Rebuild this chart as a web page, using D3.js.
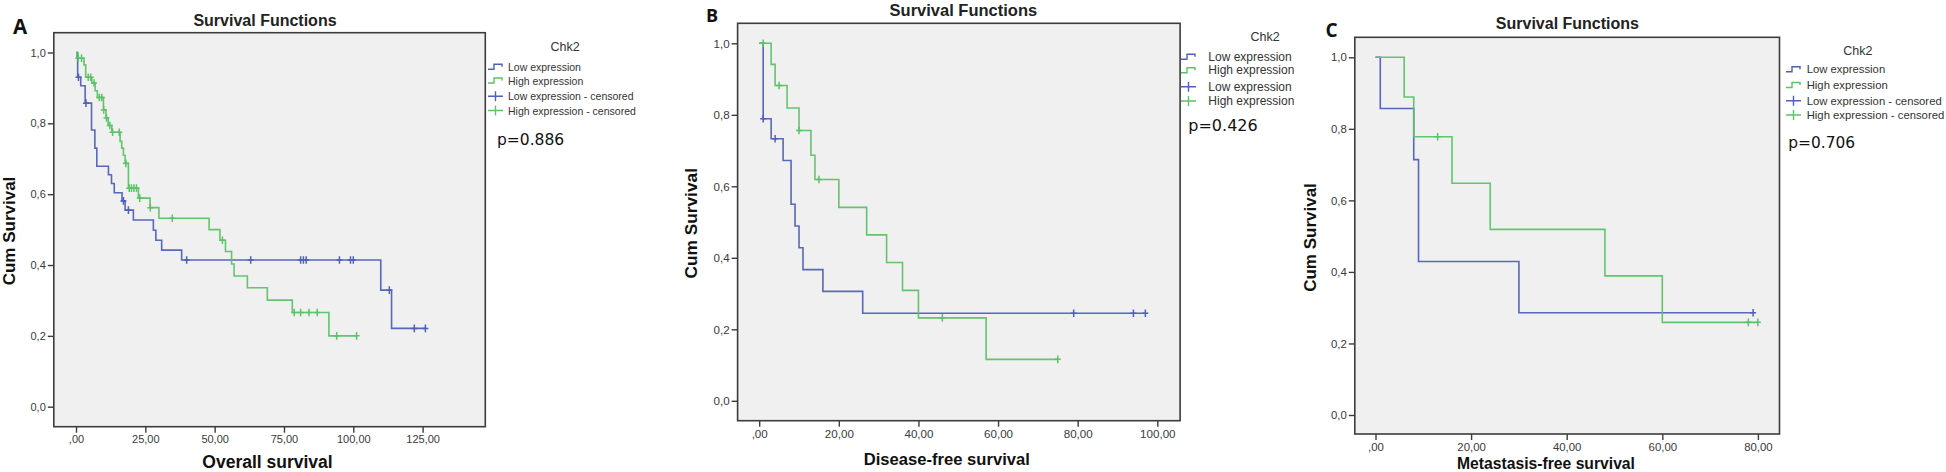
<!DOCTYPE html>
<html><head><meta charset="utf-8">
<script src="https://cdn.jsdelivr.net/npm/d3@7"></script>
<style>body{margin:0;background:#fff}</style>
</head><body>
<svg id="c" width="1946" height="472"></svg>
<script>
// ---------- data ----------
const chartTitle = "Survival Functions";
const yLabel = "Cum Survival";
const legendTitle = "Chk2";
const legendLabels = ["Low expression", "High expression", "Low expression - censored", "High expression - censored"];
const yTicks = [0, 0.2, 0.4, 0.6, 0.8, 1.0];

// Panel A – Overall survival
const A_xTicks = [0, 25, 50, 75, 100, 125];
const A_lowEventTime = [0.6, 1.7, 3.3, 5.6, 6.8, 7.5, 11.7, 12.8, 13.8, 16.6, 17.7, 20.7, 27.9, 28.8, 30.9, 38.1, 109.9, 113.8];
const A_lowEventSurv = [0.93, 0.906, 0.857, 0.781, 0.73, 0.679, 0.655, 0.63, 0.604, 0.581, 0.555, 0.527, 0.498, 0.47, 0.442, 0.414, 0.329, 0.221];
const A_lowCensorTime = [0.9, 3.6, 17.1, 18.9, 39.9, 63, 81, 82, 83, 95, 99, 100, 113, 122, 126];
const A_highEventTime = [0.3, 2.9, 3.5, 5.7, 6.9, 7.7, 9.9, 10.8, 11.6, 12.9, 15.9, 16.5, 17.1, 17.7, 18.9, 22.5, 26.7, 29.9, 48, 51.9, 53.9, 56.1, 57, 61.8, 69, 78, 91.2];
const A_highEventSurv = [0.984, 0.965, 0.93, 0.914, 0.892, 0.873, 0.838, 0.815, 0.794, 0.775, 0.749, 0.73, 0.71, 0.687, 0.617, 0.589, 0.562, 0.532, 0.5, 0.47, 0.438, 0.403, 0.369, 0.336, 0.301, 0.266, 0.2];
const A_highCensorTime = [0.8, 2.0, 4.4, 5.3, 6.5, 8.4, 9.3, 10.0, 11.0, 12.2, 13.2, 15.6, 18.0, 19.2, 20.0, 20.9, 21.8, 23.0, 26.8, 34.7, 52.8, 78.7, 81, 84, 87, 94, 101.2];
const A_pValue = "p=0.886";
const A_xLabel = "Overall survival";

// Panel B – Disease-free survival
const B_xTicks = [0, 20, 40, 60, 80, 100];
const B_lowEventTime = [1, 3, 6, 8, 9, 10, 11, 16, 26];
const B_lowEventSurv = [0.789, 0.733, 0.672, 0.55, 0.489, 0.428, 0.367, 0.306, 0.245];
const B_lowCensorTime = [1, 4, 79, 94, 97];
const B_highEventTime = [3, 4, 7, 10, 13, 14, 20, 27, 32, 36, 40, 57];
const B_highEventSurv = [0.941, 0.882, 0.819, 0.756, 0.687, 0.619, 0.541, 0.464, 0.387, 0.309, 0.232, 0.116];
const B_highCensorTime = [1, 5, 10, 15, 46, 75];
const B_pValue = "p=0.426";
const B_xLabel = "Disease-free survival";

// Panel C – Metastasis-free survival
const C_xTicks = [0, 20, 40, 60, 80];
const C_lowEventTime = [1, 8, 9, 30];
const C_lowEventSurv = [0.857, 0.714, 0.429, 0.286];
const C_lowCensorTime = [79];
const C_highEventTime = [6, 8, 16, 24, 48, 60];
const C_highEventSurv = [0.889, 0.778, 0.648, 0.519, 0.389, 0.259];
const C_highCensorTime = [13, 78, 80];
const C_pValue = "p=0.706";
const C_xLabel = "Metastasis-free survival";

// ---------- drawing ----------
const BLUE = "#4f60b6", GREEN = "#5cc267";
const svg = d3.select("#c");
svg.append("rect").attr("width", 1946).attr("height", 472).attr("fill", "#fff");
const defs = svg.append("defs");

function survAt(times, survs, t) {
  let s = 1;
  for (let i = 0; i < times.length; i++) if (times[i] <= t) s = survs[i];
  return s;
}
const fmtX = v => (v === 0 ? ",00" : d3.format(".2f")(v).replace(".", ","));
const fmtY = v => d3.format(".1f")(v).replace(".", ",");

function drawPanel(p) {
  const L = p.layout;
  const g = svg.append("g");
  const xMax = p.xTicks[p.xTicks.length - 1];
  const x = d3.scaleLinear().domain([0, xMax]).range([L.x0, L.x0 + xMax * L.ppu]);
  const y = d3.scaleLinear().domain([0, 1]).range([L.y0, L.y1]);

  // frame
  g.append("rect").attr("x", L.left).attr("y", L.top)
    .attr("width", L.right - L.left).attr("height", L.bottom - L.top)
    .attr("fill", "#f0f0f0").attr("stroke", "#3c3c3c").attr("stroke-width", 1.6);

  // axes
  const ax = g.append("g").attr("transform", `translate(0,${L.bottom})`)
    .call(d3.axisBottom(x).tickValues(p.xTicks).tickFormat(fmtX).tickSize(6).tickPadding(3));
  const ay = g.append("g").attr("transform", `translate(${L.left},0)`)
    .call(d3.axisLeft(y).tickValues(yTicks).tickFormat(fmtY).tickSize(6).tickPadding(2));
  [ax, ay].forEach(a => {
    a.select(".domain").remove();
    a.selectAll("line").attr("stroke", "#3c3c3c").attr("stroke-width", 1.4);
    a.selectAll("text").attr("fill", "#3a3a3a").attr("font-family", "Liberation Sans, Arial, sans-serif")
      .attr("font-size", p.tickFont);
  });

  // curves
  const line = d3.line().x(d => x(d[0])).y(d => y(d[1])).curve(d3.curveStepAfter);
  const series = [
    { t: p.lowT, s: p.lowS, c: p.lowC, col: BLUE },
    { t: p.highT, s: p.highS, c: p.highC, col: GREEN }
  ];
  series.forEach(se => {
    const end = Math.max(d3.max(se.t), d3.max(se.c));
    const pts = [[0, 1]].concat(se.t.map((t, i) => [t, se.s[i]]));
    pts.push([end, se.s[se.s.length - 1]]);
    g.append("path").attr("d", line(pts)).attr("fill", "none")
      .attr("stroke", se.col).attr("stroke-width", 1.6).attr("opacity", 0.95);
  });
  series.forEach(se => {
    g.selectAll(null).data(se.c).enter().append("path")
      .attr("d", t => {
        const cx = x(t), cy = y(survAt(se.t, se.s, t));
        return `M${cx - 3},${cy}H${cx + 3}M${cx},${cy - 3.8}V${cy + 3.8}`;
      })
      .attr("stroke", se.col).attr("stroke-width", 1.5).attr("fill", "none");
  });

  // titles
  const T = p.text;
  g.append("text").attr("x", T.titleX).attr("y", T.titleY).attr("text-anchor", "middle")
    .attr("font-family", "Liberation Sans, Arial, sans-serif").attr("font-weight", "bold")
    .attr("font-size", T.titleSize).attr("fill", "#222").text(chartTitle);
  g.append("text").attr("x", T.letterX).attr("y", T.letterY)
    .attr("font-family", "Open Sans, sans-serif").attr("font-weight", "bold")
    .attr("font-size", T.letterSize).attr("fill", "#111").text(p.letter);
  g.append("text").attr("transform", `translate(${T.yLabX},${T.yLabY}) rotate(-90)`)
    .attr("text-anchor", "middle").attr("dominant-baseline", "central")
    .attr("font-family", "Liberation Sans, Arial, sans-serif").attr("font-weight", "bold")
    .attr("font-size", T.yLabSize).attr("fill", "#111").text(yLabel);
  g.append("text").attr("x", T.xLabX).attr("y", T.xLabY).attr("text-anchor", "middle")
    .attr("dominant-baseline", "central")
    .attr("font-family", "Liberation Sans, Arial, sans-serif").attr("font-weight", "bold")
    .attr("font-size", T.xLabSize).attr("fill", "#111").text(p.xLabel);

  // legend
  const lg = g.append("g");
  if (p.clip) {
    defs.append("clipPath").attr("id", "clip" + p.letter).append("rect")
      .attr("x", p.clip[0]).attr("y", 0).attr("width", p.clip[1] - p.clip[0]).attr("height", 472);
    lg.attr("clip-path", `url(#clip${p.letter})`);
  }
  lg.append("text").attr("x", T.chkX).attr("y", T.chkY).attr("text-anchor", "middle")
    .attr("dominant-baseline", "central").attr("font-family", "Liberation Sans, Arial, sans-serif")
    .attr("font-size", T.chkSize).attr("fill", "#333").text(legendTitle);
  legendLabels.forEach((lab, i) => {
    const yy = T.rows[i];
    const col = i % 2 === 0 ? BLUE : GREEN;
    const x0 = T.iconX;
    const d = i < 2
      ? `M${x0},${yy + 2.5}H${x0 + 6}V${yy - 2.5}H${x0 + 14}V${yy}`
      : `M${x0},${yy}H${x0 + 15}M${x0 + 7.5},${yy - 5}V${yy + 5}`;
    lg.append("path").attr("d", d).attr("fill", "none").attr("stroke", col).attr("stroke-width", 1.4);
    lg.append("text").attr("x", T.legTextX).attr("y", yy).attr("dominant-baseline", "central")
      .attr("font-family", "Liberation Sans, Arial, sans-serif").attr("font-size", T.legSize)
      .attr("fill", "#333").text(lab);
  });
  g.append("text").attr("x", T.pX).attr("y", T.pY).attr("dominant-baseline", "central")
    .attr("font-family", "DejaVu Sans, sans-serif").attr("font-size", T.pSize)
    .attr("fill", "#111").text(p.pValue);
}

drawPanel({
  letter: "A", xTicks: A_xTicks, xLabel: A_xLabel, pValue: A_pValue,
  lowT: A_lowEventTime, lowS: A_lowEventSurv, lowC: A_lowCensorTime,
  highT: A_highEventTime, highS: A_highEventSurv, highC: A_highCensorTime,
  tickFont: 11,
  layout: { left: 53.8, right: 485.3, top: 32.7, bottom: 426.7, x0: 76, ppu: 2.773, y0: 406.7, y1: 52.5 },
  text: { titleX: 265, titleY: 25.7, titleSize: 16, letterX: 13, letterY: 34, letterSize: 20.5,
    yLabX: 9.5, yLabY: 231, yLabSize: 17, xLabX: 267.5, xLabY: 461.7, xLabSize: 17.5,
    chkX: 565, chkY: 46.7, chkSize: 12.5, rows: [66.7, 80.5, 96.2, 110.5], iconX: 488, legTextX: 508, legSize: 10.5,
    pX: 497, pY: 139.5, pSize: 15.5 }
});
drawPanel({
  letter: "B", xTicks: B_xTicks, xLabel: B_xLabel, pValue: B_pValue, clip: [1100, 1294],
  lowT: B_lowEventTime, lowS: B_lowEventSurv, lowC: B_lowCensorTime,
  highT: B_highEventTime, highS: B_highEventSurv, highC: B_highCensorTime,
  tickFont: 11.6,
  layout: { left: 737.6, right: 1180.1, top: 23.3, bottom: 420.7, x0: 759.2, ppu: 3.981, y0: 400.8, y1: 43.3 },
  text: { titleX: 963.4, titleY: 15.5, titleSize: 16.5, letterX: 706, letterY: 22, letterSize: 18,
    yLabX: 690.5, yLabY: 223.3, yLabSize: 17.3, xLabX: 946.8, xLabY: 459, xLabSize: 16.6,
    chkX: 1265, chkY: 37.3, chkSize: 12.5, rows: [56.7, 70.3, 86.7, 101], iconX: 1181, legTextX: 1208.3, legSize: 12,
    pX: 1188.3, pY: 125.5, pSize: 16 }
});
drawPanel({
  letter: "C", xTicks: C_xTicks, xLabel: C_xLabel, pValue: C_pValue,
  lowT: C_lowEventTime, lowS: C_lowEventSurv, lowC: C_lowCensorTime,
  highT: C_highEventTime, highS: C_highEventSurv, highC: C_highCensorTime,
  tickFont: 11.4,
  layout: { left: 1354.8, right: 1779.5, top: 37.3, bottom: 434, x0: 1375.5, ppu: 4.78, y0: 415, y1: 57.3 },
  text: { titleX: 1567.4, titleY: 29.3, titleSize: 16, letterX: 1325.6, letterY: 36.7, letterSize: 19,
    yLabX: 1310, yLabY: 237.5, yLabSize: 17, xLabX: 1546, xLabY: 463.3, xLabSize: 15.7,
    chkX: 1857.8, chkY: 51, chkSize: 12.5, rows: [69.3, 85, 100.7, 115], iconX: 1786, legTextX: 1806.7, legSize: 11.3,
    pX: 1788.3, pY: 143.3, pSize: 15.4 }
});
</script>
</body></html>
